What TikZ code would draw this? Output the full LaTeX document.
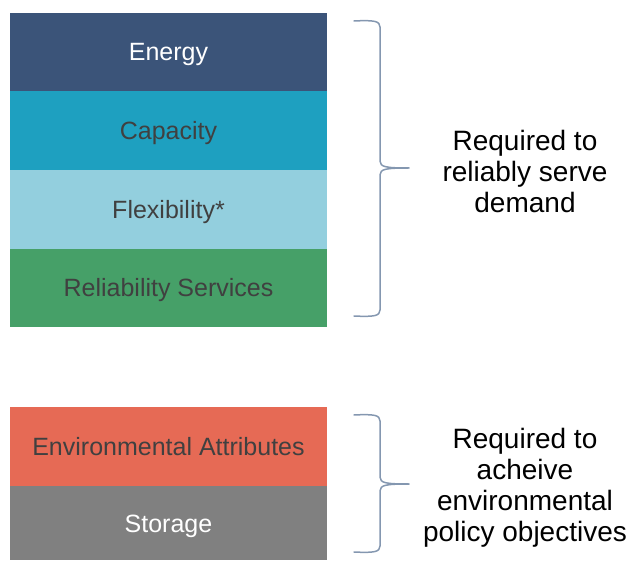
\documentclass[tikz,border=0pt]{standalone}
\usepackage{fontspec}
\setmainfont{Liberation Sans}

\definecolor{energyblue}{RGB}{59,84,121}
\definecolor{capacityteal}{RGB}{30,160,192}
\definecolor{flexblue}{RGB}{147,207,222}
\definecolor{reliabgreen}{RGB}{70,160,104}
\definecolor{envred}{RGB}{230,106,85}
\definecolor{storagegrey}{RGB}{128,128,128}
\definecolor{darktext}{RGB}{64,64,64}
\definecolor{bracecol}{RGB}{132,151,176}

\tikzset{
  band/.style={minimum width=317pt, minimum height=78.5pt, inner sep=0pt, outer sep=0pt,
    text height=18pt, text depth=0pt, text=darktext, font=\fontsize{25}{30}\selectfont},
  bracket/.style={draw=bracecol, line width=1.5pt, line cap=round, line join=round},
  note/.style={align=center, inner sep=0pt, font=\fontsize{28}{31}\selectfont}
}

% curly brace on the right: top y, tip y, bottom y
\newcommand{\sidebrace}[3]{%
  \draw[bracket] (354,#1) .. controls (374,#1-1) and (380,#1) .. (380,#1+6)
    -- (380,#2-7) .. controls (380,#2-1) and (386,#2) .. (409,#2)
    .. controls (386,#2) and (380,#2+1) .. (380,#2+7)
    -- (380,#3-6) .. controls (380,#3) and (374,#3+1) .. (354,#3);
}

\begin{document}
\begin{tikzpicture}[x=1pt, y=-1pt]
  \useasboundingbox (0,0) rectangle (632,561);

  \node[band, fill=energyblue, text=white] (energy) at (168.5,52) {Energy};
  \node[band, fill=capacityteal] (capacity) at (168.5,130.5) {Capacity};
  \node[band, fill=flexblue] (flex) at (168.5,209.5) {Flexibility*};
  \node[band, fill=reliabgreen] (reliab) at (168.5,288) {Reliability Services};

  \node[band, fill=envred] (env) at (168.5,446.5) {Environmental Attributes};
  \node[band, fill=storagegrey, text=white, minimum height=74pt] (storage) at (168.5,523) {Storage};

  \sidebrace{21}{168}{316}
  \sidebrace{415}{484}{552}

  \node[note] (demand) at (525,171) {Required to\\reliably serve\\demand};
  \node[note] (policy) at (525,487.5) {Required to\\acheive\\environmental\\policy objectives};
\end{tikzpicture}
\end{document}
